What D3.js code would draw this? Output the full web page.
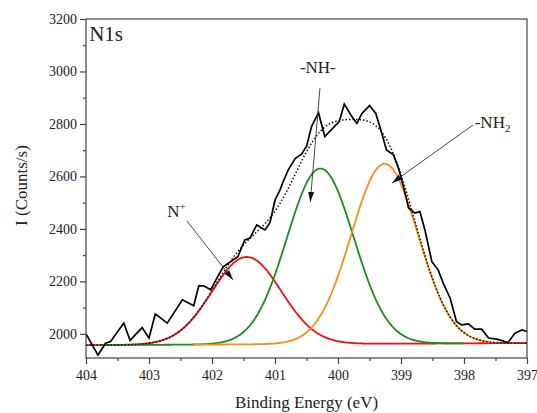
<!DOCTYPE html>
<html>
<head>
<meta charset="utf-8">
<script src="https://cdn.jsdelivr.net/npm/d3@7"></script>
<style>
body { margin: 0; background: #fff; }
svg text { font-family: "Liberation Serif", "DejaVu Serif", serif; fill: #222; }
</style>
</head>
<body>
<div id="chart"></div>
<script>
// ===== measured spectrum =====
var energy = [404.00,403.81,403.69,403.61,403.40,403.30,403.11,403.00,402.90,402.71,
    402.47,402.29,402.21,402.13,402.02,401.91,401.82,401.74,401.59,401.48,
    401.40,401.29,401.16,401.08,401.00,400.92,400.87,400.79,400.68,400.58,
    400.50,400.42,400.31,400.21,400.10,399.98,399.90,399.78,399.70,399.62,
    399.50,399.40,399.32,399.23,399.12,399.04,398.96,398.88,398.78,398.70,
    398.62,398.51,398.41,398.33,398.22,398.12,398.04,397.93,397.83,397.72,
    397.61,397.48,397.30,397.19,397.08,397.00]
var counts = [2000,1919,1964,1971,2041,1975,2024,1984,2076,2041,
    2130,2107,2183,2183,2168,2218,2256,2269,2294,2358,
    2364,2415,2396,2424,2510,2549,2580,2625,2668,2685,
    2714,2790,2843,2752,2779,2809,2876,2828,2802,2840,
    2870,2840,2777,2701,2682,2631,2561,2480,2460,2466,
    2396,2275,2244,2193,2136,2047,2034,2038,2018,2018,
    1984,1980,1967,2003,2015,2009]

// ===== fitted components =====
var peakNames = ["N+", "-NH-", "-NH2"]
var peakCenter = [401.45, 400.28, 399.26]
var peakHeight = [2293, 2630, 2648]
var peakSigma = [0.55, 0.53, 0.53]
var peakColor = ["#f01010", "#1e8c1e", "#ff8c1a"]
var peakRange = [[404, 397], [403.8, 398.0], [402.3, 397.6]]
var baseline = [1957, 1965]   // at 404 and 397 eV

var xTicks = [404, 403, 402, 401, 400, 399, 398, 397]
var yTicks = [2000, 2200, 2400, 2600, 2800, 3000, 3200]

var width = 537, height = 413
var margin = {left: 86, right: 10, top: 19, bottom: 55}
var serif = "'Liberation Serif', 'DejaVu Serif', serif"

var svg = d3.select("#chart")
    .append("svg")
    .attr("width", width)
    .attr("height", height)

var x = d3.scaleLinear()
    .domain([404, 397])
    .range([margin.left, width - margin.right])

var y = d3.scaleLinear()
    .domain([1908, 3200])
    .range([height - margin.bottom, margin.top])

function base(e){
    return baseline[0] + (baseline[1] - baseline[0]) * (404 - e) / 7
}
function gauss(i, e){
    var d = e - peakCenter[i]
    var b = base(peakCenter[i])
    return (peakHeight[i] - b) * Math.exp(-d * d / (2 * peakSigma[i] * peakSigma[i]))
}

var grid = d3.range(0, 701).map(function(k){ return 404 - k * 0.01 })

var line = d3.line()
    .x(function(d){ return x(d[0]) })
    .y(function(d){ return y(d[1]) })

// components
peakNames.forEach(function(name, i){
    var pts = grid.filter(function(e){
        return e <= peakRange[i][0] + 1e-9 && e >= peakRange[i][1] - 1e-9
    }).map(function(e){ return [e, base(e) + gauss(i, e)] })
    svg.append("path")
        .attr("d", line(pts))
        .attr("fill", "none")
        .attr("stroke", peakColor[i])
        .attr("stroke-width", 1.8)
})

// envelope
var env = grid.map(function(e){
    return [e, base(e) + gauss(0, e) + gauss(1, e) + gauss(2, e)]
})
svg.append("path")
    .attr("d", line(env))
    .attr("fill", "none")
    .attr("stroke", "#111")
    .attr("stroke-width", 1.5)
    .attr("stroke-dasharray", "1.5,2")

// raw data
svg.append("path")
    .attr("d", line(energy.map(function(e, i){ return [e, counts[i]] })))
    .attr("fill", "none")
    .attr("stroke", "#000")
    .attr("stroke-width", 1.7)

// frame
var x0 = x.range()[0], x1 = x.range()[1], y0 = y.range()[0], y1 = y.range()[1]
svg.append("rect")
    .attr("x", x0).attr("y", y1)
    .attr("width", x1 - x0).attr("height", y0 - y1)
    .attr("fill", "none")
    .attr("stroke", "#444")
    .attr("stroke-width", 1.2)

// axes
var xAxis = svg.append("g")
    .attr("transform", "translate(0," + y0 + ")")
    .call(d3.axisBottom(x).tickValues(xTicks).tickFormat(d3.format("d")).tickSize(6).tickSizeOuter(0))
svg.append("g")
    .attr("transform", "translate(0," + y0 + ")")
    .call(d3.axisBottom(x).tickValues(d3.range(403.5, 397, -1)).tickFormat("").tickSize(3).tickSizeOuter(0))

var yAxis = svg.append("g")
    .attr("transform", "translate(" + x0 + ",0)")
    .call(d3.axisLeft(y).tickValues(yTicks).tickFormat(d3.format("d")).tickSize(6).tickSizeOuter(0))
svg.append("g")
    .attr("transform", "translate(" + x0 + ",0)")
    .call(d3.axisLeft(y).tickValues(d3.range(2100, 3200, 200)).tickFormat("").tickSize(3).tickSizeOuter(0))

svg.selectAll("g").attr("font-family", serif)
svg.selectAll(".domain").remove()
svg.selectAll(".tick line").attr("stroke", "#444").attr("stroke-width", 1.2)
svg.selectAll(".tick text")
    .attr("font-family", serif)
    .attr("font-size", "14px")
    .attr("fill", "#333")
xAxis.selectAll(".tick text").attr("dy", "1em").attr("y", 8)
yAxis.selectAll(".tick text").attr("x", -9)

// axis titles
svg.append("text")
    .text("Binding Energy (eV)")
    .attr("x", (x0 + x1) / 2)
    .attr("y", 408)
    .attr("text-anchor", "middle")
    .attr("font-family", serif)
    .attr("font-size", "17px")
    .attr("fill", "#333")

svg.append("text")
    .text("I (Counts/s)")
    .attr("transform", "translate(27," + ((y0 + y1) / 2 - 3) + ") rotate(-90)")
    .attr("text-anchor", "middle")
    .attr("font-family", serif)
    .attr("font-size", "17px")
    .attr("fill", "#333")

svg.append("text")
    .text("N1s")
    .attr("x", x(403.95))
    .attr("y", y(3116))
    .attr("font-family", serif)
    .attr("font-size", "21px")

// annotations
svg.append("defs").append("marker")
    .attr("id", "arr")
    .attr("viewBox", "0 0 10 10")
    .attr("refX", 10).attr("refY", 5)
    .attr("markerWidth", 10).attr("markerHeight", 10)
    .attr("markerUnits", "userSpaceOnUse")
    .attr("orient", "auto")
    .append("path")
    .attr("d", "M0,2L10,5L0,8z")
    .attr("fill", "#111")

var arrows = [
    [[402.397, 2430], [401.667, 2206]],
    [[400.286, 2937], [400.44, 2503]],
    [[397.857, 2796], [399.143, 2575]]
]
arrows.forEach(function(a){
    svg.append("line")
        .attr("x1", x(a[0][0])).attr("y1", y(a[0][1]))
        .attr("x2", x(a[1][0])).attr("y2", y(a[1][1]))
        .attr("stroke", "#333")
        .attr("stroke-width", 0.9)
        .attr("marker-end", "url(#arr)")
})

var t1 = svg.append("text")
    .attr("x", x(402.71)).attr("y", y(2446))
    .attr("font-family", serif)
    .attr("font-size", "17px")
t1.append("tspan").text("N")
t1.append("tspan").text("+").attr("font-size", "11px").attr("dy", "-7")

svg.append("text")
    .text("-NH-")
    .attr("x", x(400.32)).attr("y", y(2994))
    .attr("text-anchor", "middle")
    .attr("font-family", serif)
    .attr("font-size", "17px")

var t3 = svg.append("text")
    .attr("x", x(397.83)).attr("y", y(2785))
    .attr("font-family", serif)
    .attr("font-size", "17px")
t3.append("tspan").text("-NH")
t3.append("tspan").text("2").attr("font-size", "11px").attr("dy", "4")
</script>
</body>
</html>
